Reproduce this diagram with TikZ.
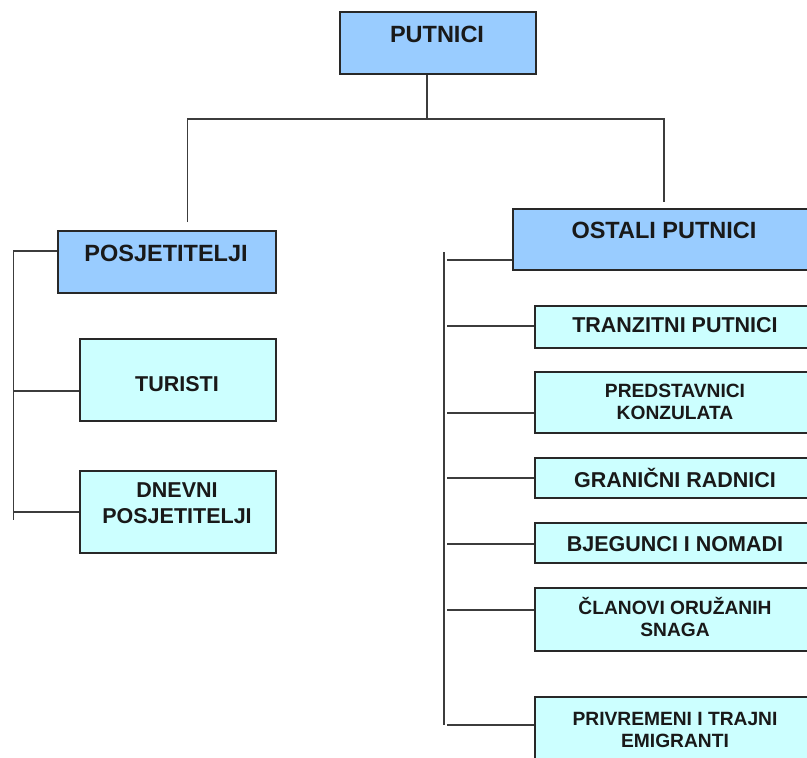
\documentclass[tikz,border=0pt]{standalone}
\usepackage{fontspec}
\setmainfont{Liberation Sans}
\definecolor{blueA}{RGB}{153,204,255}
\definecolor{cyanA}{RGB}{204,255,255}
\definecolor{boxline}{RGB}{40,40,40}
\definecolor{linegray}{RGB}{60,60,60}
\tikzset{
  bigbox/.style={draw=boxline, line width=1.5pt, fill=blueA, inner sep=0pt, anchor=north west},
  smallbox/.style={draw=boxline, line width=1.5pt, fill=cyanA, inner sep=0pt, anchor=north west},
  bigtext/.style={font=\fontsize{23.5}{26}\selectfont\bfseries, align=center, inner sep=0pt, text=black!90},
  smalltext/.style={font=\fontsize{21.5}{22}\selectfont\bfseries, align=center, inner sep=0pt, text=black!90},
  twoline/.style={font=\fontsize{19.2}{22}\selectfont\bfseries, align=center, inner sep=0pt, text=black!90},
  conn/.style={draw=linegray, line width=1.7pt},
}
\begin{document}
\begin{tikzpicture}[x=1pt,y=-1pt]
\useasboundingbox (0,0) rectangle (807,758);
\clip (0,0) rectangle (807,758);
% boxes
\node[bigbox, minimum width=196pt, minimum height=62pt] (putnici) at (339,11) {};
\node[bigbox, minimum width=218pt, minimum height=62pt] (posj) at (57,230) {};
\node[bigbox, minimum width=304pt, minimum height=61pt] (ostali) at (512,208) {};
\node[smallbox, minimum width=196pt, minimum height=82pt] (turisti) at (79,338) {};
\node[smallbox, minimum width=196pt, minimum height=82pt] (dnevni) at (79,470) {};
\node[smallbox, minimum width=282pt, minimum height=42pt] (tranz) at (534,305) {};
\node[smallbox, minimum width=282pt, minimum height=61pt] (pred) at (534,371) {};
\node[smallbox, minimum width=282pt, minimum height=40pt] (gran) at (534,457) {};
\node[smallbox, minimum width=282pt, minimum height=40pt] (bjeg) at (534,522) {};
\node[smallbox, minimum width=282pt, minimum height=63pt] (clan) at (534,587) {};
\node[smallbox, minimum width=282pt, minimum height=90pt] (priv) at (534,696) {};
% texts
\node[bigtext] (tPutnici) at (437,34.5) {PUTNICI};
\node[bigtext] (tPosj) at (166,253.5) {POSJETITELJI};
\node[bigtext] (tOstali) at (664,230) {OSTALI PUTNICI};
\node[smalltext] (tTuristi) at (177,384.5) {TURISTI};
\node[smalltext, font=\fontsize{21.5}{26}\selectfont\bfseries] (tDnevni) at (177,503) {DNEVNI\\POSJETITELJI};
\node[smalltext] (tTranz) at (675,325) {TRANZITNI PUTNICI};
\node[twoline] (tPred) at (675,402) {PREDSTAVNICI\\KONZULATA};
\node[smalltext] (tGran) at (675,477.5) {GRANIČNI RADNICI};
\node[smalltext] (tBjeg) at (675,544.5) {BJEGUNCI I NOMADI};
\node[twoline] (tClan) at (675,617) {ČLANOVI ORUŽANIH\\SNAGA};
\node[twoline] (tPriv) at (675,730) {PRIVREMENI I TRAJNI\\EMIGRANTI};
% top connectors
\coordinate (busM) at (427,119);
\coordinate (busL) at (187.5,119);
\coordinate (busR) at (664,119);
\coordinate (endL) at (187.5,222);
\coordinate (endR) at (664,202);
\draw[conn] (putnici.south -| busM) -- (busM);
\draw[conn] (endL) -- (busL) -- (busR) -- (endR);
% left tree
\coordinate (lTop) at (13.5,251);
\coordinate (lBot) at (13.5,520);
\coordinate (lTur) at (13.5,391);
\coordinate (lDn) at (13.5,512);
\draw[conn] (posj.west |- lTop) -- (lTop) -- (lBot);
\draw[conn] (lTur) -- (turisti.west |- lTur);
\draw[conn] (lDn) -- (dnevni.west |- lDn);
% right tree
\coordinate (rTop) at (444,252);
\coordinate (rBot) at (444,725);
\draw[conn] (rTop) -- (rBot);
\coordinate (sO) at (447,260);
\coordinate (sT) at (447,326);
\coordinate (sP) at (447,413);
\coordinate (sG) at (447,478);
\coordinate (sB) at (447,544);
\coordinate (sC) at (447,610);
\coordinate (sV) at (447,725);
\draw[conn] (sO) -- (ostali.west |- sO);
\draw[conn] (sT) -- (tranz.west |- sT);
\draw[conn] (sP) -- (pred.west |- sP);
\draw[conn] (sG) -- (gran.west |- sG);
\draw[conn] (sB) -- (bjeg.west |- sB);
\draw[conn] (sC) -- (clan.west |- sC);
\draw[conn] (sV) -- (priv.west |- sV);
\end{tikzpicture}
\end{document}
